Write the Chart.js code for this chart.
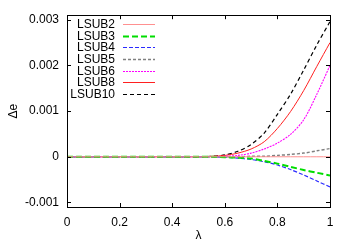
<!DOCTYPE html>
<html>
<head>
<meta charset="utf-8">
<script src="https://cdn.jsdelivr.net/npm/chart.js@4/dist/chart.umd.min.js"></script>
<style>
  html, body { margin: 0; padding: 0; background: #fff; }
  #wrap { width: 350px; height: 245px; }
</style>
</head>
<body>
<div id="wrap"><canvas id="myChart" width="350" height="245"></canvas></div>
<script>
// data
var lambda = [0, 0.05, 0.1, 0.15, 0.2, 0.25, 0.3, 0.35, 0.4, 0.45, 0.5,
              0.55, 0.6, 0.65, 0.7, 0.75, 0.8, 0.85, 0.9, 0.95, 1.0];
var zeros = [0, 0, 0, 0, 0, 0, 0, 0, 0, 0, 0];
var lsub2  = zeros.concat([0, 0, 0, 0, 0, 0, 0, 0, 0, 0]);
var lsub3  = zeros.concat([0, -0.00001, -0.00002, -0.00004, -0.00009, -0.00015, -0.00022, -0.00029, -0.00035, -0.00041]);
var lsub4  = zeros.concat([0, -0.00001, -0.00003, -0.00006, -0.00011, -0.00018, -0.00028, -0.0004, -0.00053, -0.00066]);
var lsub5  = zeros.concat([0, 0, 0, 0.00001, 0.00001, 0.00003, 0.00005, 0.00008, 0.00013, 0.00018]);
var lsub6  = zeros.concat([0, 0.00001, 0.00003, 0.00008, 0.00017, 0.0003, 0.00049, 0.00081, 0.00137, 0.002]);
var lsub8  = zeros.concat([0.00001, 0.00003, 0.00008, 0.00017, 0.00033, 0.00062, 0.00099, 0.00145, 0.00198, 0.0025]);
var lsub10 = zeros.concat([0.00001, 0.00004, 0.00012, 0.00027, 0.00052, 0.00093, 0.00137, 0.0019, 0.00245, 0.00296]);

var xTicks = [0, 0.2, 0.4, 0.6, 0.8, 1];
var yTicks = [-0.001, 0, 0.001, 0.002, 0.003];

function pts(arr) {
    var out = [];
    for (var i = 0; i < lambda.length; i++) out.push({x: lambda[i], y: arr[i]});
    return out;
}

function ds(label, arr, color, dash, width) {
    return {
        label: label,
        data: pts(arr),
        borderColor: color,
        backgroundColor: color,
        borderDash: dash,
        borderWidth: width,
        pointRadius: 0,
        fill: false,
        tension: 0.3
    };
}

var FONT = 'Liberation Sans, Arial, sans-serif';
var FS = 12;

// box round the plot + inward ticks on all sides
var frame = {
    id: 'frame',
    afterDraw: function (chart) {
        var c = chart.ctx, a = chart.chartArea;
        var xs = chart.scales.x, ys = chart.scales.y;
        c.save();
        c.strokeStyle = '#000';
        c.lineWidth = 1;
        c.strokeRect(Math.round(a.left) + 0.5, Math.round(a.top) + 0.5,
                     Math.round(a.right - a.left), Math.round(a.bottom - a.top));
        c.beginPath();
        xTicks.forEach(function (v) {
            var px = Math.round(xs.getPixelForValue(v)) + 0.5;
            c.moveTo(px, a.bottom); c.lineTo(px, a.bottom - 4);
            c.moveTo(px, a.top); c.lineTo(px, a.top + 4);
        });
        yTicks.forEach(function (v) {
            var py = Math.round(ys.getPixelForValue(v)) + 0.5;
            c.moveTo(a.left, py); c.lineTo(a.left + 4, py);
            c.moveTo(a.right, py); c.lineTo(a.right - 4, py);
        });
        c.stroke();

        // legend, gnuplot style: text right aligned, sample after it
        c.font = FS + 'px ' + FONT;
        c.textAlign = 'right';
        c.textBaseline = 'middle';
        chart.data.datasets.forEach(function (d, i) {
            var y = Math.round(a.top + 9 + i * 11.6) + 0.5;
            c.fillStyle = '#000';
            c.fillText(d.label, a.left + 48, y);
            c.beginPath();
            c.strokeStyle = d.borderColor;
            c.lineWidth = d.borderWidth;
            c.setLineDash(d.borderDash);
            c.moveTo(a.left + 56, y);
            c.lineTo(a.left + 88, y);
            c.stroke();
            c.setLineDash([]);
        });
        c.restore();
    }
};

var ctx = document.getElementById('myChart').getContext('2d');
var myChart = new Chart(ctx, {
    type: 'line',
    data: {
        datasets: [
            ds('LSUB2', lsub2, '#ff9090', [], 1),
            ds('LSUB3', lsub3, '#00dd00', [6, 3], 2),
            ds('LSUB4', lsub4, '#2a2aff', [4, 2], 1.2),
            ds('LSUB5', lsub5, '#808080', [3, 2], 1.5),
            ds('LSUB6', lsub6, '#ff00ff', [2, 1], 1.1),
            ds('LSUB8', lsub8, '#ff2020', [], 1),
            ds('LSUB10', lsub10, '#000000', [4, 3], 1.2)
        ]
    },
    options: {
        responsive: false,
        animation: false,
        layout: { padding: { top: 14, right: 20, left: 0, bottom: 0 } },
        plugins: { legend: { display: false }, tooltip: { enabled: false } },
        scales: {
            x: {
                type: 'linear',
                min: 0, max: 1,
                afterBuildTicks: function (s) { s.ticks = xTicks.map(function (v) { return {value: v}; }); },
                afterFit: function (s) { s.height = 38; },
                grid: { display: false, drawTicks: false },
                border: { display: false },
                ticks: { padding: 8, color: '#000', font: { family: FONT, size: FS },
                         callback: function (v) { return String(v); } },
                title: { display: true, text: 'λ', color: '#000', padding: { top: 0, bottom: 2 },
                         font: { family: FONT, size: FS } }
            },
            y: {
                type: 'linear',
                min: -0.0011, max: 0.0031,
                afterBuildTicks: function (s) { s.ticks = yTicks.map(function (v) { return {value: v}; }); },
                afterFit: function (s) { s.width = 67; },
                grid: { display: false, drawTicks: false },
                border: { display: false },
                ticks: { padding: 8, color: '#000', font: { family: FONT, size: FS },
                         callback: function (v) { return String(v); } },
                title: { display: true, text: 'Δe', color: '#000', padding: { top: 6 },
                         font: { family: FONT, size: FS } }
            }
        }
    },
    plugins: [frame]
});
</script>
</body>
</html>
